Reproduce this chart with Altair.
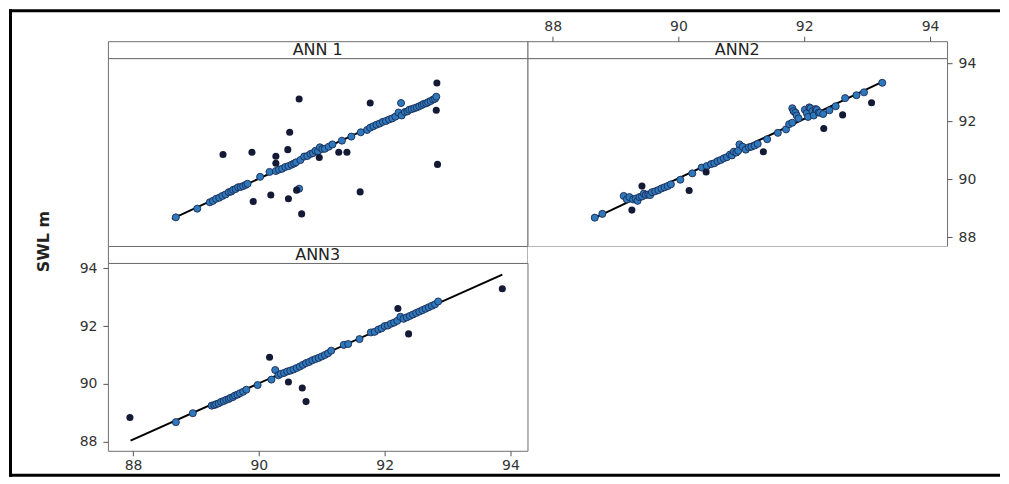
import altair as alt
import pandas as pd

X_DOMAIN = [87.6, 94.27]
Y_DOMAIN = [87.69, 94.18]
TICKS = [88, 90, 92, 94]

# ---------------- ANN 1 ----------------
ann1_fit_x = [88.62, 92.85]
ann1_fit_y = [88.63, 92.88]
ann1_dark_x = [92.83, 90.64, 91.77, 92.82, 90.49, 89.43, 89.89, 90.27, 90.46, 90.27, 91.27, 91.40,
               90.96, 92.84, 90.60, 91.61, 90.19, 90.47, 89.91, 90.68]
ann1_dark_y = [93.32, 92.77, 92.63, 92.38, 91.62, 90.85, 90.93, 90.79, 91.02, 90.55, 90.93, 90.93,
               90.75, 90.51, 89.62, 89.56, 89.45, 89.32, 89.23, 88.80]
ann1_blue_x = [88.68, 89.02, 89.22, 89.27, 89.32, 89.37, 89.42, 89.47, 89.52, 89.56, 89.59, 89.63,
               89.67, 89.71, 89.75, 89.79, 89.82, 90.02, 90.17, 90.27, 90.32, 90.37, 90.42, 90.47,
               90.52, 90.56, 90.59, 90.66, 90.72, 90.77, 90.82, 90.86, 90.90, 90.94, 90.97, 91.01,
               91.05, 91.11, 91.17, 91.32, 91.47, 91.62, 91.72, 91.77, 91.82, 91.87, 91.92, 91.97,
               92.02, 92.07, 92.12, 92.17, 92.22, 92.27, 92.32, 92.36, 92.39, 92.43, 92.47, 92.51,
               92.55, 92.59, 92.62, 92.66, 92.69, 92.73, 92.77, 92.80, 92.82, 92.26, 90.64]
ann1_blue_y = [88.68, 88.98, 89.20, 89.25, 89.32, 89.36, 89.42, 89.47, 89.55, 89.57, 89.63, 89.66,
               89.72, 89.73, 89.76, 89.80, 89.84, 90.08, 90.25, 90.28, 90.33, 90.36, 90.42, 90.45,
               90.50, 90.54, 90.58, 90.66, 90.78, 90.80, 90.87, 90.90, 90.98, 90.96, 91.10, 91.04,
               91.05, 91.12, 91.20, 91.33, 91.47, 91.62, 91.70, 91.78, 91.83, 91.88, 91.92, 91.98,
               92.01, 92.06, 92.10, 92.16, 92.30, 92.20, 92.32, 92.34, 92.40, 92.42, 92.45, 92.48,
               92.52, 92.56, 92.60, 92.62, 92.66, 92.70, 92.75, 92.78, 92.85, 92.63, 89.67]

# ---------------- ANN2 ----------------
ann2_fit_x = [88.62, 93.24]
ann2_fit_y = [88.61, 93.36]
ann2_dark_x = [93.07, 92.61, 92.31, 91.35, 90.44, 90.17, 89.42, 89.26]
ann2_dark_y = [92.64, 92.22, 91.75, 90.95, 90.25, 89.61, 89.76, 88.93]
ann2_blue_x = [88.67, 88.79, 89.13, 89.18, 89.22, 89.28, 89.32, 89.35, 89.38, 89.42, 89.45, 89.48,
               89.52, 89.55, 89.58, 89.63, 89.68, 89.73, 89.78, 89.83, 89.88, 90.03, 90.22, 90.37,
               90.45, 90.52, 90.57, 90.62, 90.67, 90.72, 90.77, 90.82, 90.85, 90.88, 90.92, 90.95,
               90.97, 91.02, 91.07, 91.12, 91.16, 91.21, 91.26, 91.41, 91.58, 91.71, 91.76, 91.81,
               91.81, 91.83, 91.86, 91.88, 91.91, 92.01, 92.04, 92.06, 92.08, 92.10, 92.13, 92.15,
               92.18, 92.20, 92.23, 92.25, 92.30, 92.40, 92.50, 92.65, 92.83, 92.95, 93.24]
ann2_blue_y = [88.67, 88.80, 89.42, 89.30, 89.38, 89.30, 89.33, 89.25, 89.38, 89.40, 89.50, 89.45,
               89.47, 89.45, 89.55, 89.58, 89.62, 89.68, 89.72, 89.76, 89.82, 89.98, 90.20, 90.40,
               90.45, 90.52, 90.55, 90.62, 90.66, 90.72, 90.76, 90.85, 90.82, 90.95, 90.92, 90.98,
               91.20, 91.12, 91.02, 91.10, 91.12, 91.16, 91.22, 91.38, 91.60, 91.72, 91.90, 91.95,
               92.45, 92.35, 92.30, 92.20, 92.10, 92.40, 92.28, 92.15, 92.48, 92.45, 92.35, 92.20,
               92.42, 92.40, 92.30, 92.30, 92.25, 92.38, 92.52, 92.80, 92.90, 93.00, 93.33]

# ---------------- ANN3 ----------------
ann3_fit_x = [87.96, 93.87]
ann3_fit_y = [88.04, 93.78]
ann3_dark_x = [87.95, 93.87, 92.21, 92.38, 90.17, 90.47, 90.69, 90.75]
ann3_dark_y = [88.84, 93.29, 92.61, 91.73, 90.92, 90.07, 89.86, 89.39]
ann3_blue_x = [88.68, 88.95, 89.25, 89.29, 89.32, 89.36, 89.40, 89.44, 89.48, 89.52, 89.55, 89.59,
               89.62, 89.66, 89.70, 89.75, 89.80, 89.98, 90.20, 90.26, 90.31, 90.35, 90.40, 90.45,
               90.50, 90.55, 90.60, 90.65, 90.70, 90.75, 90.80, 90.85, 90.90, 90.95, 91.00, 91.05,
               91.10, 91.15, 91.35, 91.42, 91.60, 91.78, 91.84, 91.90, 91.95, 92.00, 92.05, 92.10,
               92.15, 92.20, 92.25, 92.30, 92.35, 92.40, 92.45, 92.50, 92.55, 92.60, 92.65, 92.70,
               92.75, 92.80, 92.85]
ann3_blue_y = [88.68, 88.99, 89.25, 89.27, 89.30, 89.33, 89.38, 89.41, 89.45, 89.48, 89.52, 89.55,
               89.60, 89.63, 89.68, 89.73, 89.80, 89.96, 90.15, 90.48, 90.30, 90.35, 90.38, 90.43,
               90.46, 90.50, 90.55, 90.60, 90.66, 90.72, 90.76, 90.82, 90.86, 90.90, 90.95, 91.00,
               91.06, 91.15, 91.35, 91.38, 91.55, 91.78, 91.80, 91.88, 91.92, 92.00, 92.02, 92.08,
               92.12, 92.18, 92.32, 92.25, 92.30, 92.35, 92.40, 92.45, 92.50, 92.55, 92.60, 92.65,
               92.70, 92.75, 92.85]

FONT = "DejaVu Sans"
DARK = "#141a36"
BLUE = "#2e78bc"
EDGE = "#1b2b55"
BORDER = "#6e6e6e"
PW, PH, SH = 420, 188, 17


def df(x, y):
    return pd.DataFrame({"x": x, "y": y})


def axis(orient, title=None, **kw):
    opts = dict(orient=orient, values=TICKS, format="d", domain=False, grid=False,
                tickColor="#555", tickSize=5, labelFont=FONT, labelFontSize=14,
                labelColor="#333", labelPadding=5, title=title)
    opts.update(kw)
    return alt.Axis(**opts)


def plot_panel(fx, fy, dx, dy, bx, by, xaxis, yaxis, extra=()):
    xs = alt.Scale(domain=X_DOMAIN, nice=False, zero=False)
    ys = alt.Scale(domain=Y_DOMAIN, nice=False, zero=False)
    X = alt.X("x:Q", scale=xs, axis=xaxis)
    Y = alt.Y("y:Q", scale=ys, axis=yaxis)
    line = alt.Chart(df(fx, fy)).mark_line(color="black", strokeWidth=2).encode(x=X, y=Y)
    blue = alt.Chart(df(bx, by)).mark_circle(size=50, color=BLUE, stroke=EDGE, strokeWidth=0.9,
                                             opacity=1).encode(x=X, y=Y)
    dark = alt.Chart(df(dx, dy)).mark_circle(size=50, color=DARK, opacity=1).encode(x=X, y=Y)
    return alt.layer(*extra, line, blue, dark).properties(width=PW, height=PH)


def strip(label, top_axis=None):
    base = alt.Chart(pd.DataFrame({"t": [label]})).mark_text(
        font=FONT, fontSize=16, color="#222", baseline="middle")
    if top_axis is None:
        ch = base.encode(text="t:N", x=alt.value(PW / 2), y=alt.value(SH / 2 + 0.5))
    else:
        ch = base.encode(
            text="t:N",
            x=alt.XDatum(sum(X_DOMAIN) / 2, type="quantitative",
                         scale=alt.Scale(domain=X_DOMAIN, nice=False, zero=False), axis=top_axis),
            y=alt.value(SH / 2 + 0.5))
    return ch.properties(width=PW, height=SH)


# decorative picture frame (top, left, bottom bands) drawn from the ANN 1 panel
one = pd.DataFrame({"a": [0]})
frame = [
    alt.Chart(one).mark_rect(color="black").encode(
        x=alt.value(-99), x2=alt.value(893), y=alt.value(-49), y2=alt.value(-46)),
    alt.Chart(one).mark_rect(color="black").encode(
        x=alt.value(-99), x2=alt.value(-96), y=alt.value(-49), y2=alt.value(419)),
    alt.Chart(one).mark_rect(color="black").encode(
        x=alt.value(-99), x2=alt.value(893), y=alt.value(416), y2=alt.value(419)),
]

p1 = plot_panel(ann1_fit_x, ann1_fit_y, ann1_dark_x, ann1_dark_y, ann1_blue_x, ann1_blue_y,
                None, None, extra=frame)
p2 = plot_panel(ann2_fit_x, ann2_fit_y, ann2_dark_x, ann2_dark_y, ann2_blue_x, ann2_blue_y,
                None, axis("right", labelPadding=6))
p3 = plot_panel(ann3_fit_x, ann3_fit_y, ann3_dark_x, ann3_dark_y, ann3_blue_x, ann3_blue_y,
                axis("bottom", labelPadding=3),
                axis("left", title="SWL m", labelPadding=6, titleFont=FONT, titleFontSize=16,
                     titleFontWeight="bold", titleColor="#222", titleAngle=270,
                     titleX=-64, titleY=-22, titleAlign="center", titleBaseline="middle"))

s1 = strip("ANN 1")
s2 = strip("ANN2", top_axis=axis("top", labelPadding=3))
s3 = strip("ANN3")
blank = alt.Chart(one).mark_point(opacity=0).encode(
    x=alt.value(0), y=alt.value(0)).properties(
    width=PW, height=SH, view=alt.ViewBackground(strokeOpacity=0))

chart = alt.concat(s1, s2, p1, p2, s3, blank, p3, columns=2, spacing=0, bounds="flush").properties(
    padding=0, background="white"
).configure_view(stroke=BORDER, strokeWidth=1, fill="white")

chart.save("out.html", embed_options={"renderer": "svg", "actions": False})
